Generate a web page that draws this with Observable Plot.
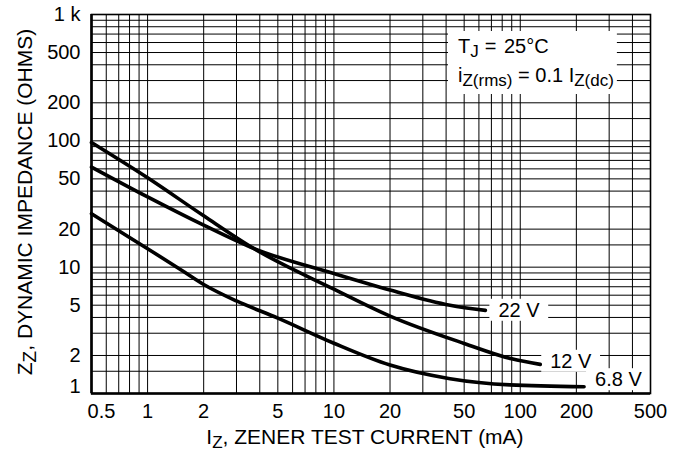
<!DOCTYPE html>
<html>
<head>
<meta charset="utf-8">
<script src="https://cdn.jsdelivr.net/npm/d3@7"></script>
<script src="https://cdn.jsdelivr.net/npm/@observablehq/plot@0.6"></script>
<style>
  body { margin: 0; background: #fff; }
  svg { display: block; }
</style>
</head>
<body>
<div id="chart"></div>
<script>
// ---- data ----
const xTickValues = [0.5, 1, 2, 5, 10, 20, 50, 100, 200, 500];
const xTickLabels = ["0.5", "1", "2", "5", "10", "20", "50", "100", "200", "500"];
const yTickValues = [1, 2, 5, 10, 20, 50, 100, 200, 500, 1000];
const yTickLabels = ["1", "2", "5", "10", "20", "50", "100", "200", "500", "1 k"];
const xGridValues = [0.6, 0.7, 0.8, 0.9, 1, 2, 3, 4, 5, 6, 7, 8, 9, 10, 20, 30, 40, 50, 60, 70, 80, 90, 100, 200, 300, 400];
const yGridValues = [1.5, 2, 3, 4, 5, 6, 7, 8, 9, 10, 15, 20, 30, 40, 50, 60, 70, 80, 90, 100, 150, 200, 300, 400, 500, 600, 700, 800, 900];

const seriesNames = ["22 V", "12 V", "6.8 V"];
const current22 = [0.5, 1, 2, 3.7, 10, 20, 42, 65];
const z22 =       [62, 36, 21.5, 14.1, 8.9, 6.6, 5.0, 4.55];
const current12 = [0.5, 1, 2, 3.7, 10, 20, 50, 90, 128];
const z12 =       [97, 51, 25.5, 14.1, 6.7, 4.1, 2.49, 1.88, 1.70];
const current68 = [0.5, 1, 1.5, 2, 3, 5, 10, 20, 42, 88, 220];
const z68 =       [26.5, 14, 9.6, 7.3, 5.4, 3.95, 2.5, 1.68, 1.31, 1.17, 1.13];

const xDomain = [0.5, 500];
const yDomain = [1, 1000];

// ---- build table ----
const rows = [];
[[current22, z22], [current12, z12], [current68, z68]].forEach(([cs, zs], k) => {
  cs.forEach((c, i) => rows.push({series: seriesNames[k], current: c, z: zs[i]}));
});
const ends = seriesNames.map(name => {
  const r = rows.filter(d => d.series === name);
  return r[r.length - 1];
});
const labelOffsetDx = {"22 V": 13, "12 V": 10, "6.8 V": 11};
const labelOffsetDy = {"22 V": 0, "12 V": -3, "6.8 V": -7};

const FONT = "Liberation Sans, Arial, Helvetica, sans-serif";

const plot = Plot.plot({
  width: 673,
  height: 458,
  marginLeft: 91,
  marginRight: 23,
  marginTop: 14,
  marginBottom: 65,
  style: {fontFamily: FONT, background: "#fff", color: "#000"},
  x: {type: "log", domain: xDomain, axis: null},
  y: {type: "log", domain: yDomain, axis: null},
  marks: [
    Plot.ruleX(xGridValues, {stroke: "#000", strokeWidth: 1}),
    Plot.ruleY(yGridValues, {stroke: "#000", strokeWidth: 1}),
    Plot.frame({stroke: "#000", strokeWidth: 1.6}),
    Plot.ruleX([xDomain[0]], {stroke: "#000", strokeWidth: 2.6}),
    Plot.ruleY([yDomain[0]], {stroke: "#000", strokeWidth: 2.4}),
    Plot.line(rows, {x: "current", y: "z", z: "series", stroke: "#000", strokeWidth: 3.6,
      curve: "monotone-x", strokeLinecap: "round", strokeLinejoin: "round"}),
    Plot.text(ends, {x: "current", y: "z", text: "series", textAnchor: "start", fontSize: 20, fill: "#000"}),
    // x tick labels
    Plot.text(xTickValues.slice(0, 1), {x: d => d, text: () => xTickLabels[0], frameAnchor: "bottom",
      lineAnchor: "top", dy: 10, dx: 10, fontSize: 20, fill: "#000"}),
    Plot.text(xTickValues.slice(1), {x: d => d, text: (d, i) => xTickLabels[i + 1], frameAnchor: "bottom",
      lineAnchor: "top", dy: 10, fontSize: 20, fill: "#000"}),
    // y tick labels
    Plot.text(yTickValues.slice(0, 1), {y: d => d, text: () => yTickLabels[0], frameAnchor: "left",
      textAnchor: "end", dx: -11, dy: -7, fontSize: 20, fill: "#000"}),
    Plot.text(yTickValues.slice(1), {y: d => d, text: (d, i) => yTickLabels[i + 1], frameAnchor: "left",
      textAnchor: "end", dx: -11, fontSize: 20, fill: "#000"})
  ]
});

document.getElementById("chart").appendChild(plot);

const svg = d3.select(plot);

// annotation (with subscripts)
const ann = svg.append("g").attr("font-family", FONT).attr("fill", "#000").attr("text-anchor", "start");
const ax = 458;
const t1 = ann.append("text").attr("x", ax).attr("y", 53).attr("font-size", 20);
t1.append("tspan").text("T");
t1.append("tspan").attr("dy", 4).attr("font-size", 17).text("J");
t1.append("tspan").attr("dy", -4).attr("dx", 6).text("=");
t1.append("tspan").attr("dx", 2).text(" 25°C");
const t2 = ann.append("text").attr("x", ax).attr("y", 82).attr("font-size", 20);
t2.append("tspan").text("i");
t2.append("tspan").attr("dy", 4).attr("font-size", 17).text("Z(rms)");
t2.append("tspan").attr("dy", -4).text(" = 0.1 I");
t2.append("tspan").attr("dy", 4).attr("font-size", 17).text("Z(dc)");

// axis titles
const titles = svg.append("g").attr("font-family", FONT).attr("fill", "#000").attr("font-size", 21);
const xt = titles.append("text").attr("x", 365).attr("y", 444).attr("text-anchor", "middle");
xt.append("tspan").text("I");
xt.append("tspan").attr("dy", 4).attr("font-size", 17).text("Z");
xt.append("tspan").attr("dy", -4).text(", ZENER TEST CURRENT (mA)");
const yt = titles.append("text").attr("transform", "translate(32,202) rotate(-90)").attr("text-anchor", "middle");
yt.append("tspan").text("Z");
yt.append("tspan").attr("dy", 4).attr("font-size", 19).text("Z");
yt.append("tspan").attr("dy", -4).text(", DYNAMIC IMPEDANCE (OHMS)");

// curve labels: offsets, and white boxes behind labels/annotation
const svgRect = plot.getBoundingClientRect();
const curveLabelTexts = svg.selectAll('g[aria-label="text"]').filter((d, i) => i === 0).selectAll("text");
curveLabelTexts.each(function() {
  const name = this.textContent;
  d3.select(this).attr("dx", labelOffsetDx[name]).attr("dy", labelOffsetDy[name]);
});
const frameEl = plot.querySelector('[aria-label="frame"]');
const boxLayer = d3.select(plot.insertBefore(document.createElementNS("http://www.w3.org/2000/svg", "g"), frameEl));
function addBox(el, padL, padR, padT, padB) {
  const r = el.getBoundingClientRect();
  boxLayer.append("rect")
    .attr("x", r.left - svgRect.left - padL)
    .attr("y", r.top - svgRect.top - padT)
    .attr("width", r.width + padL + padR)
    .attr("height", r.height + padT + padB)
    .attr("fill", "#fff");
}
curveLabelTexts.each(function() { addBox(this, 9, 8, 0, 0); });
addBox(ann.node(), 10, 3, 4, 4);
</script>
</body>
</html>
